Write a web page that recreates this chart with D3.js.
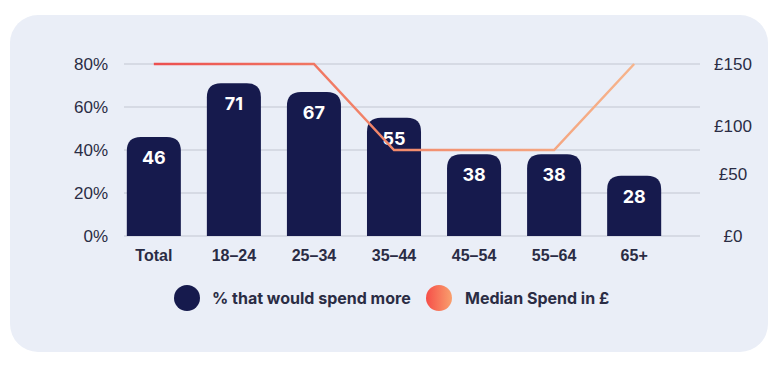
<!DOCTYPE html>
<html>
<head>
<meta charset="utf-8">
<script src="https://cdn.jsdelivr.net/npm/d3@7"></script>
<style>
  body { margin: 0; background: #fff; }
  svg { display: block; font-family: Inter, "DejaVu Sans", sans-serif; }
</style>
</head>
<body>
<svg id="vis" width="777" height="368"></svg>
<script>
// chart values
var categories = ["Total", "18-24", "25-34", "35-44", "45-54", "55-64", "65+"];
var shareMore = [46, 71, 67, 55, 38, 38, 28];
var medianSpend = [150, 150, 150, 75, 75, 75, 150];
var leftTicks = [0, 20, 40, 60, 80];
var rightTicks = [0, 50, 100, 150];

var navy = "#161a4d";
var ink = "#2a2c44";

var svg = d3.select("#vis");

// card
svg.append("rect")
   .attr("x", 10).attr("y", 15)
   .attr("width", 758).attr("height", 337)
   .attr("rx", 28)
   .style("fill", "#eaeef7");

var plotTop = 64, plotBottom = 236;
var x = d3.scaleBand().domain(categories).range([114, 674]).paddingInner(0.325).paddingOuter(0.16);
var y = d3.scaleLinear().domain([0, 80]).range([plotBottom, plotTop]);
var y2 = d3.scaleLinear().domain([0, 150]).range([plotBottom, plotTop]);
// right-hand labels sit a little unevenly in the original
var y2label = d3.scaleLinear().domain([0, 50, 100, 150])
                .range([plotBottom, y2(54), y2(96), plotTop]);

// gridlines
svg.append("g")
   .selectAll("line")
   .data(leftTicks)
   .enter()
   .append("line")
   .attr("x1", 124).attr("x2", 700)
   .attr("y1", d => y(d)).attr("y2", d => y(d))
   .style("stroke", "#cfd3de")
   .style("stroke-width", 1.5);

// left axis
var leftAxis = d3.axisLeft(y).tickValues(leftTicks).tickSize(0).tickPadding(0).tickFormat(d => d + "%");
svg.append("g")
   .attr("transform", "translate(108,0)")
   .call(leftAxis)
   .call(g => g.select(".domain").remove())
   .selectAll("text")
   .style("font-size", "17px")
   .style("font-weight", 500)
   .style("fill", ink);

// right axis
var rightAxis = d3.axisRight(y2label).tickValues(rightTicks).tickSize(0).tickPadding(0).tickFormat(d => "£" + d);
svg.append("g")
   .attr("transform", "translate(733,0)")
   .call(rightAxis)
   .call(g => g.select(".domain").remove())
   .selectAll("text")
   .attr("text-anchor", "middle")
   .style("font-size", "17px")
   .style("font-weight", 500)
   .style("fill", ink);

// bottom axis
var bottomAxis = d3.axisBottom(x).tickSize(0).tickPadding(0).tickFormat(d => d.replace("-", "\u2013"));
svg.append("g")
   .attr("transform", "translate(0,249)")
   .call(bottomAxis)
   .call(g => g.select(".domain").remove())
   .selectAll("text")
   .attr("dy", "0.75em")
   .style("font-size", "16px")
   .style("font-weight", 600)
   .style("fill", ink);

// bars with rounded tops
var r = 14;
function barPath(d, i) {
  var x0 = x(categories[i]), w = x.bandwidth(), y0 = y(d);
  return "M" + x0 + "," + plotBottom +
         "V" + (y0 + r) +
         "Q" + x0 + "," + y0 + " " + (x0 + r) + "," + y0 +
         "H" + (x0 + w - r) +
         "Q" + (x0 + w) + "," + y0 + " " + (x0 + w) + "," + (y0 + r) +
         "V" + plotBottom + "Z";
}
svg.append("g")
   .selectAll("path")
   .data(shareMore)
   .enter()
   .append("path")
   .attr("d", barPath)
   .style("fill", navy);

svg.append("g")
   .selectAll("text")
   .data(shareMore)
   .enter()
   .append("text")
   .attr("x", (d, i) => x(categories[i]) + x.bandwidth() / 2)
   .attr("y", d => y(d) + 27)
   .attr("text-anchor", "middle")
   .style("font-size", "18px")
   .style("font-weight", 700)
   .style("fill", "#fff")
   .text(d => d);

// line gradient
var defs = svg.append("defs");
var lineGrad = defs.append("linearGradient")
   .attr("id", "lineGrad")
   .attr("gradientUnits", "userSpaceOnUse")
   .attr("x1", x(categories[0]) + x.bandwidth() / 2)
   .attr("x2", x(categories[6]) + x.bandwidth() / 2)
   .attr("y1", 0).attr("y2", 0);
lineGrad.append("stop").attr("offset", "0%").attr("stop-color", "#ec4f50");
lineGrad.append("stop").attr("offset", "50%").attr("stop-color", "#f28a6c");
lineGrad.append("stop").attr("offset", "100%").attr("stop-color", "#f6b48c");

var dotGrad = defs.append("linearGradient").attr("id", "dotGrad");
dotGrad.append("stop").attr("offset", "0%").attr("stop-color", "#f64e48");
dotGrad.append("stop").attr("offset", "100%").attr("stop-color", "#f9a06e");

var line = d3.line()
   .x((d, i) => x(categories[i]) + x.bandwidth() / 2)
   .y(d => y2(d));
svg.append("path")
   .datum(medianSpend)
   .attr("d", line)
   .style("fill", "none")
   .style("stroke", "url(#lineGrad)")
   .style("stroke-width", 2.5);

// legend
var legend = [
  { label: "% that would spend more", fill: navy, cx: 187, tx: 212 },
  { label: "Median Spend in £", fill: "url(#dotGrad)", cx: 439, tx: 465 }
];
var lg = svg.append("g").selectAll("g").data(legend).enter().append("g");
lg.append("circle")
  .attr("cx", d => d.cx).attr("cy", 298).attr("r", 13)
  .style("fill", d => d.fill);
lg.append("text")
  .attr("x", d => d.tx).attr("y", 304)
  .style("font-size", "16px")
  .style("font-weight", 700)
  .style("fill", ink)
  .text(d => d.label);
</script>
</body>
</html>
